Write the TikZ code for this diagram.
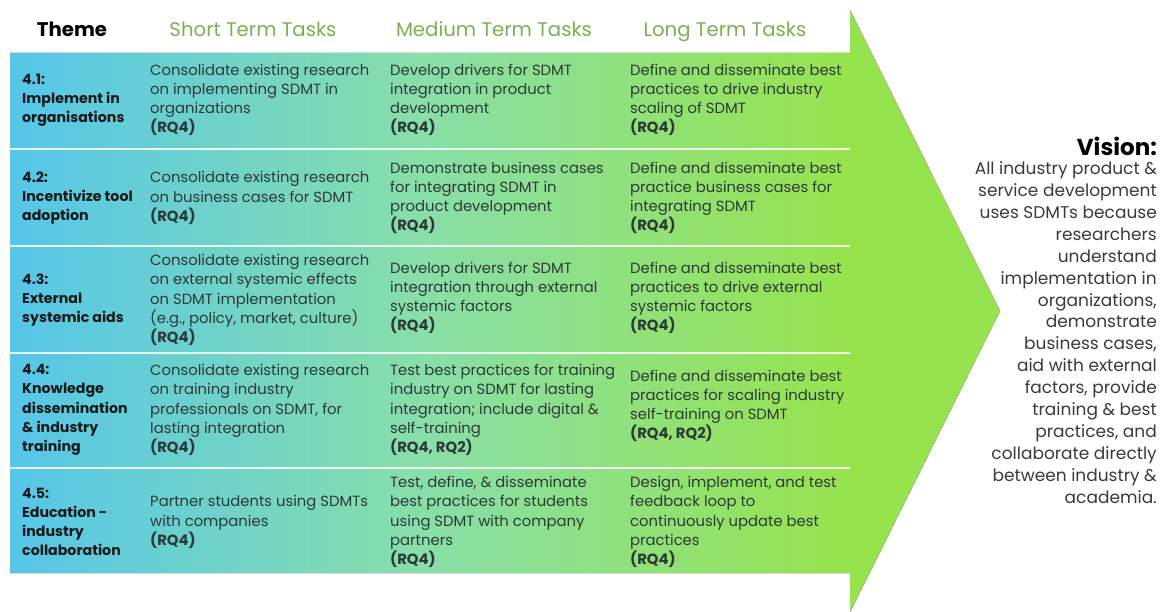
\documentclass[tikz,border=0pt]{standalone}
\usepackage{fontspec}
\setmainfont{Poppins}
\usepackage{tikz}
\usetikzlibrary{positioning}

\definecolor{skyblue}{HTML}{56C6EA}
\definecolor{mint}{HTML}{88DFA8}
\definecolor{lime}{HTML}{97E34E}
\definecolor{headgreen}{HTML}{76B24E}
\definecolor{celltext}{HTML}{2E3838}
\definecolor{visiontext}{HTML}{3A3A3A}

\pgfdeclarehorizontalshading{roadmap}{100bp}{color(0bp)=(skyblue); color(25bp)=(skyblue); color(46bp)=(mint); color(67bp)=(lime); color(100bp)=(lime)}

\tikzset{
	header/.style={anchor=base, font=\fontsize{19.7}{22}\selectfont, text=headgreen, inner sep=0pt},
	theme/.style={anchor=west, align=left, inner sep=0pt, text=black!90, font=\fontsize{14.2}{19.2}\selectfont\bfseries},
	cell/.style={anchor=west, align=left, inner sep=0pt, text=celltext, font=\fontsize{14.8}{19.2}\selectfont},
	rowline/.style={white, line width=2.5pt, opacity=0.85}
}

\begin{document}
\begin{tikzpicture}[x=1pt,
					y=-1pt]
					
					\useasboundingbox (0,0) rectangle (1167,612);
					\fill[shading=roadmap] (10,53) -- (850,53) -- (850,10) -- (1000,311) -- (850,612) -- (850,573) -- (10,573) -- cycle;
					\foreach \y in {149,246,353,468}
						\draw[rowline] (10,\y) -- (850,\y);
					
					\node[header, text=black, font=\fontsize{19.7}{22}\selectfont\bfseries] (hthm) at (72,37) {Theme};
					\node[header] (hshort) at (253,37) {Short Term Tasks};
					\node[header] (hmed) at (494,37) {Medium Term Tasks};
					\node[header] (hlong) at (725,37) {Long Term Tasks};
					
					\node[theme] (t1) at (22,100) {4.1:\\Implement in\\organisations};
					\node[cell] (s1) at (150,100) {Consolidate existing research\\on implementing SDMT in\\organizations\\\textbf{(RQ4)}};
					\node[cell] (m1) at (390,100) {Develop drivers for SDMT\\integration in product\\development\\\textbf{(RQ4)}};
					\node[cell] (l1) at (630,100) {Define and disseminate best\\practices to drive industry\\scaling of SDMT\\\textbf{(RQ4)}};
					
					\node[theme] (t2) at (22,198) {4.2:\\Incentivize tool\\adoption};
					\node[cell] (s2) at (150,198) {Consolidate existing research\\on business cases for SDMT\\\textbf{(RQ4)}};
					\node[cell] (m2) at (390,198) {Demonstrate business cases\\for integrating SDMT in\\product development\\\textbf{(RQ4)}};
					\node[cell] (l2) at (630,198) {Define and disseminate best\\practice business cases for\\integrating SDMT\\\textbf{(RQ4)}};
					
					\node[theme] (t3) at (22,300) {4.3:\\External\\systemic aids};
					\node[cell] (s3) at (150,300) {Consolidate existing research\\on external systemic effects\\on SDMT implementation\\(e.g., policy, market, culture)\\\textbf{(RQ4)}};
					\node[cell] (m3) at (390,298) {Develop drivers for SDMT\\integration through external\\systemic factors\\\textbf{(RQ4)}};
					\node[cell] (l3) at (630,298) {Define and disseminate best\\practices to drive external\\systemic factors\\\textbf{(RQ4)}};
					
					\node[theme] (t4) at (22,410) {4.4:\\Knowledge\\dissemination\\\& industry\\training};
					\node[cell] (s4) at (150,410) {Consolidate existing research\\on training industry\\professionals on SDMT, for\\lasting integration\\\textbf{(RQ4)}};
					\node[cell] (m4) at (390,410) {Test best practices for training\\industry on SDMT for lasting\\integration; include digital \&\\self-training\\\textbf{(RQ4, RQ2)}};
					\node[cell] (l4) at (630,406) {Define and disseminate best\\practices for scaling industry\\self-training on SDMT\\\textbf{(RQ4, RQ2)}};
					
					\node[theme] (t5) at (22,522) {4.5:\\Education -\\industry\\collaboration};
					\node[cell] (s5) at (150,522) {Partner students using SDMTs\\with companies\\\textbf{(RQ4)}};
					\node[cell] (m5) at (390,522) {Test, define, \& disseminate\\best practices for students\\using SDMT with company\\partners\\\textbf{(RQ4)}};
					\node[cell] (l5) at (630,522) {Design, implement, and test\\feedback loop to\\continuously update best\\practices\\\textbf{(RQ4)}};
					
					\node[inner sep=0pt, anchor=east, font=\fontsize{23}{26}\selectfont\bfseries] (vis) at (1157,146) {Vision:};
					\node[below=6pt of vis.south east, anchor=north east, inner sep=0pt, align=right, text=visiontext, font=\fontsize{17}{21.9}\selectfont] (visbody) {All industry product \&\\service development\\uses SDMTs because\\researchers\\understand\\implementation in\\organizations,\\demonstrate\\business cases,\\aid with external\\factors, provide\\training \& best\\practices, and\\collaborate directly\\between industry \&\\academia.};
				\end{tikzpicture}
\end{document}
